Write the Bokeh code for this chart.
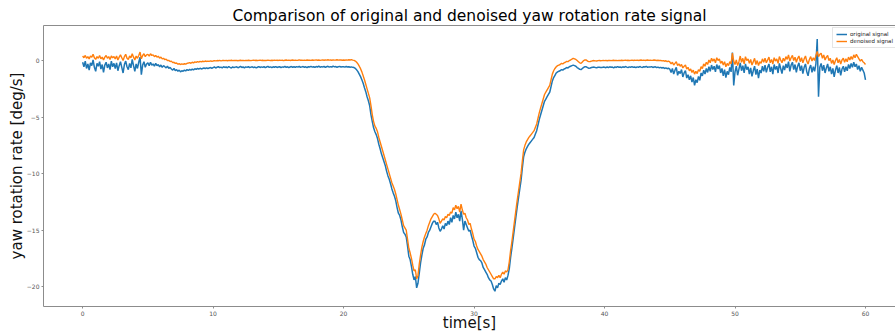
from bokeh.plotting import figure
from bokeh.models import Range1d, FixedTicker, LinearAxis, Legend, LegendItem
from bokeh.embed import file_html
from bokeh.resources import INLINE

SAMPLE_STEP_S = 0.1  # samples every 0.1 s, from t = 0 s

original_signal = [
    -0.15, -0.55, -0.05, -0.70, -0.30, -0.85, -0.20, -0.45, 0.05, -0.60, -0.95, -0.25, -0.50, -0.10, -0.75, -0.35, -1.05, -0.40, -0.15, -0.65, -0.30, -0.80, -0.05, -0.55, -0.25,
    -0.70, -0.20, -0.90, -0.45, -0.10, -0.60, -1.10, -0.35, -0.05, -0.55, -0.80, -0.25, -0.65, 0.10, -0.45, -0.95, -0.30, -0.70, -0.15, 0.30, -1.25, -0.40, -0.10, -0.60, -0.30,
    -0.20, -0.45, -0.15, -0.40, -0.30, -0.50, -0.25, -0.45, -0.35, -0.55, -0.40, -0.60, -0.45, -0.55, -0.65, -0.50, -0.70, -0.60, -0.75, -0.85, -0.70, -0.90, -0.80, -0.95, -0.85,
    -1.00, -0.90, -0.95, -0.85, -0.92, -0.80, -0.88, -0.78, -0.84, -0.75, -0.82, -0.72, -0.78, -0.70, -0.76, -0.68, -0.74, -0.70, -0.66, -0.72, -0.64, -0.70, -0.66, -0.62, -0.68,
    -0.62, -0.56, -0.66, -0.59, -0.54, -0.63, -0.58, -0.65, -0.55, -0.61, -0.57, -0.64, -0.53, -0.60, -0.66, -0.56, -0.62, -0.58, -0.55, -0.63, -0.59, -0.52, -0.61, -0.57, -0.64,
    -0.56, -0.60, -0.54, -0.63, -0.58, -0.55, -0.62, -0.57, -0.65, -0.59, -0.53, -0.61, -0.56, -0.60, -0.54, -0.63, -0.57, -0.52, -0.60, -0.56, -0.62, -0.55, -0.59, -0.53, -0.61,
    -0.57, -0.54, -0.62, -0.56, -0.59, -0.52, -0.60, -0.55, -0.63, -0.57, -0.53, -0.59, -0.55, -0.61, -0.54, -0.58, -0.51, -0.60, -0.56, -0.53, -0.59, -0.55, -0.62, -0.54, -0.57,
    -0.52, -0.58, -0.55, -0.61, -0.53, -0.57, -0.50, -0.59, -0.54, -0.56, -0.52, -0.60, -0.55, -0.51, -0.58, -0.54, -0.57, -0.50, -0.56, -0.53, -0.59, -0.54, -0.52, -0.57, -0.55,
    -0.55, -0.58, -0.53, -0.57, -0.54, -0.59, -0.56, -0.60, -0.62, -0.70, -0.82, -0.98, -1.20, -1.42, -1.70, -2.00, -2.40, -2.75, -3.20, -3.55, -4.00, -4.80, -5.40, -5.95, -6.30,
    -6.55, -6.90, -7.40, -7.80, -8.25, -8.60, -8.95, -9.30, -9.80, -10.20, -10.50, -10.90, -11.35, -11.70, -12.00, -12.40, -13.00, -13.50, -13.70, -14.10, -14.70, -15.20, -15.35, -15.60, -16.40,
    -17.30, -17.60, -18.20, -18.90, -19.40, -19.10, -20.10, -19.70, -18.80, -17.90, -17.20, -16.60, -16.30, -15.80, -15.60, -15.20, -15.00, -14.70, -14.40, -14.20, -14.20, -14.50, -14.30, -14.80, -15.10,
    -14.90, -14.60, -14.90, -14.40, -14.60, -14.20, -14.50, -13.90, -14.30, -13.70, -14.00, -13.40, -13.90, -13.60, -14.20, -13.30, -14.00, -15.00, -14.20, -14.50, -14.80, -15.10, -15.00, -15.50, -15.90,
    -16.40, -16.60, -17.00, -17.40, -17.60, -17.70, -17.90, -18.30, -18.50, -18.70, -18.90, -19.20, -19.40, -19.50, -19.80, -20.20, -20.40, -19.90, -20.10, -19.70, -19.80, -19.50, -19.30, -19.60, -19.20,
    -19.40, -19.00, -18.40, -17.40, -16.60, -15.70, -14.80, -13.90, -13.00, -12.20, -11.40, -10.60, -9.50, -8.50, -8.10, -7.80, -7.60, -7.40, -7.25, -7.10, -6.95, -6.80, -6.50, -6.20, -5.70,
    -5.20, -4.80, -4.40, -4.00, -3.60, -3.40, -3.20, -3.00, -2.80, -2.30, -1.80, -1.50, -1.30, -1.10, -1.00, -0.95, -0.90, -0.80, -0.85, -0.75, -0.70, -0.62, -0.65, -0.55, -0.50,
    -0.45, -0.40, -0.45, -0.50, -0.62, -0.70, -0.78, -0.80, -0.70, -0.60, -0.55, -0.55, -0.62, -0.68, -0.66, -0.62, -0.59, -0.58, -0.61, -0.63, -0.60, -0.59, -0.62, -0.61, -0.58,
    -0.60, -0.63, -0.57, -0.62, -0.55, -0.60, -0.58, -0.64, -0.56, -0.61, -0.54, -0.59, -0.57, -0.62, -0.55, -0.60, -0.53, -0.58, -0.61, -0.56, -0.59, -0.54, -0.60, -0.57, -0.62,
    -0.56, -0.59, -0.53, -0.58, -0.61, -0.55, -0.57, -0.52, -0.60, -0.56, -0.58, -0.54, -0.61, -0.57, -0.55, -0.62, -0.58, -0.64, -0.60, -0.66, -0.62, -0.70, -0.65, -0.72, -0.68,
    -0.75, -1.05, -0.70, -1.20, -0.85, -0.60, -1.30, -0.95, -1.15, -0.80, -1.45, -1.10, -0.90, -1.55, -1.25, -1.70, -1.35, -1.90, -1.50, -2.20, -1.70, -1.95, -1.40, -1.75, -1.10,
    -1.35, -0.85, -1.20, -0.70, -1.05, -0.55, -0.95, -0.40, -0.80, -0.50, -1.00, -0.35, -0.75, -0.45, -1.10, -0.70, -1.35, -0.80, -1.50, -0.95, -1.25, -0.60, -1.00, 0.70, -2.20,
    -1.00, -0.50, -1.30, -0.75, -0.20, -0.90, -0.45, -1.10, -0.30, -0.80, -0.55, -1.20, -0.65, -1.40, -0.90, -0.50, -1.25, -0.75, -1.55, -0.85, -1.10, -0.50, -0.95, -0.40, -1.05,
    -0.60, -0.30, -1.00, -0.55, -1.20, -0.35, -0.80, -0.50, -1.10, -0.25, -0.70, -1.15, -0.45, -0.85, -0.30, -0.65, -0.10, -0.95, -0.40, -0.15, -0.80, -0.35, -1.05, -0.50, -0.20,
    -0.90, -0.45, -1.15, -0.60, -0.30, -1.00, -1.35, -0.70, -0.40, -1.05, -0.55, -0.95, -0.30, 1.90, -3.20, -0.60, -0.25, -0.90, -0.40, -1.10, -0.65, -0.30, -0.95, -0.55, -1.20,
    -0.70, -1.45, -0.85, -0.45, -1.10, -0.60, -1.30, -0.75, -0.50, -1.00, -0.55, -0.90, -0.35, -0.70, -0.25, -0.60, -0.15, -0.55, -0.30, -0.80, -0.45, -0.95, -0.60, -0.85, -1.10,
    -1.70,
]

denoised_signal = [
    0.40, 0.25, 0.45, 0.20, 0.35, 0.15, 0.40, 0.30, 0.55, 0.25, 0.10, 0.35, 0.20, 0.45, 0.15, 0.30, 0.05, 0.30, 0.45, 0.20, 0.35, 0.10, 0.40, 0.25, 0.35,
    0.15, 0.40, 0.05, 0.30, 0.50, 0.25, 0.00, 0.35, 0.55, 0.20, 0.10, 0.40, 0.25, 0.60, 0.30, 0.05, 0.40, 0.20, 0.45, 0.75, 0.15, 0.45, 0.60, 0.35, 0.50,
    0.55, 0.40, 0.60, 0.45, 0.50, 0.35, 0.45, 0.30, 0.38, 0.22, 0.30, 0.15, 0.20, 0.08, 0.12, 0.00, 0.02, -0.08, -0.05, -0.18, -0.15, -0.25, -0.22, -0.32, -0.28,
    -0.35, -0.30, -0.34, -0.28, -0.32, -0.25, -0.22, -0.18, -0.24, -0.15, -0.20, -0.12, -0.16, -0.10, -0.14, -0.08, -0.12, -0.06, -0.10, -0.04, -0.08, -0.05, -0.07, -0.03, -0.06,
    -0.04, -0.01, -0.03, 0.00, -0.02, 0.01, -0.03, 0.00, 0.02, -0.01, 0.01, -0.02, 0.02, 0.00, 0.03, -0.01, 0.01, 0.00, 0.02, -0.02, 0.01, 0.03, 0.00, 0.02, -0.01,
    0.02, 0.00, 0.03, 0.01, -0.01, 0.02, 0.04, 0.01, 0.03, 0.00, 0.02, 0.04, 0.01, 0.03, 0.00, 0.02, 0.01, 0.04, 0.02, 0.00, 0.03, 0.01, 0.04, 0.02, 0.03,
    0.01, 0.04, 0.02, 0.03, 0.00, 0.03, 0.05, 0.02, 0.04, 0.01, 0.03, 0.05, 0.02, 0.04, 0.02, 0.03, 0.06, 0.03, 0.04, 0.01, 0.04, 0.02, 0.05, 0.03, 0.04,
    0.02, 0.05, 0.03, 0.04, 0.06, 0.03, 0.05, 0.02, 0.04, 0.06, 0.03, 0.05, 0.04, 0.07, 0.04, 0.05, 0.03, 0.06, 0.04, 0.05, 0.07, 0.04, 0.06, 0.05, 0.03,
    0.05, 0.03, 0.06, 0.04, 0.07, 0.05, 0.08, 0.04, 0.02, -0.04, -0.15, -0.30, -0.50, -0.72, -1.00, -1.35, -1.70, -2.10, -2.50, -2.90, -3.30, -4.00, -4.80, -5.40, -5.80,
    -6.00, -6.30, -6.80, -7.20, -7.60, -8.00, -8.40, -8.80, -9.20, -9.60, -10.00, -10.40, -10.80, -11.10, -11.40, -11.80, -12.30, -12.80, -13.20, -13.60, -14.10, -14.60, -14.80, -15.00, -15.80,
    -16.60, -17.00, -17.50, -18.10, -18.60, -18.50, -19.30, -19.00, -18.00, -17.20, -16.50, -16.00, -15.60, -15.30, -15.00, -14.60, -14.30, -14.00, -13.80, -13.60, -13.50, -13.60, -13.70, -14.00, -14.40,
    -14.20, -14.00, -14.10, -13.80, -13.90, -13.60, -13.70, -13.40, -13.50, -13.00, -13.20, -12.80, -13.10, -12.90, -13.40, -12.70, -13.20, -13.60, -13.50, -13.90, -14.10, -14.50, -14.40, -14.90, -15.30,
    -15.80, -16.00, -16.40, -16.70, -16.90, -17.10, -17.30, -17.60, -17.80, -18.00, -18.30, -18.50, -18.70, -18.90, -19.10, -19.30, -19.30, -19.10, -19.20, -19.00, -19.20, -18.90, -18.70, -18.90, -18.60,
    -18.70, -18.50, -17.80, -16.80, -16.00, -15.10, -14.20, -13.30, -12.40, -11.60, -10.80, -10.00, -8.90, -7.90, -7.50, -7.20, -7.00, -6.80, -6.65, -6.50, -6.35, -6.20, -5.90, -5.60, -5.10,
    -4.60, -4.20, -3.80, -3.40, -3.00, -2.80, -2.60, -2.40, -2.20, -1.70, -1.20, -0.90, -0.70, -0.55, -0.45, -0.40, -0.35, -0.25, -0.30, -0.20, -0.15, -0.08, -0.10, 0.00, 0.05,
    0.12, 0.20, 0.15, 0.10, 0.00, -0.10, -0.20, -0.25, -0.12, 0.00, 0.06, 0.05, -0.05, -0.10, -0.08, -0.05, -0.02, 0.00, -0.03, -0.04, -0.01, 0.00, -0.02, -0.01, 0.01,
    -0.01, 0.01, -0.02, 0.00, 0.02, -0.01, 0.01, 0.03, 0.00, 0.02, -0.01, 0.02, 0.00, 0.03, 0.01, 0.02, 0.04, 0.01, 0.03, 0.00, 0.02, 0.04, 0.01, 0.03, 0.02,
    0.04, 0.01, 0.03, 0.05, 0.02, 0.04, 0.01, 0.03, 0.05, 0.02, 0.04, 0.02, 0.03, 0.05, 0.03, 0.01, 0.03, 0.00, 0.02, -0.03, 0.00, -0.06, -0.02, -0.10, -0.05,
    -0.12, -0.30, -0.15, -0.40, -0.25, -0.10, -0.45, -0.30, -0.50, -0.35, -0.65, -0.50, -0.40, -0.75, -0.60, -0.90, -0.75, -1.05, -0.85, -1.20, -0.95, -1.15, -0.80, -0.95, -0.55,
    -0.70, -0.30, -0.50, -0.15, -0.35, 0.05, -0.20, 0.20, -0.05, 0.15, -0.20, 0.25, 0.00, 0.15, -0.25, -0.05, -0.40, -0.10, -0.55, -0.25, -0.45, -0.10, -0.30, 0.65, -0.05,
    -0.35, 0.05, -0.45, -0.10, 0.40, -0.15, 0.20, -0.30, 0.35, 0.00, 0.15, -0.25, 0.10, -0.40, -0.10, 0.20, -0.35, 0.00, -0.45, -0.10, -0.25, 0.15, -0.15, 0.20, -0.20,
    0.05, 0.30, -0.20, 0.10, -0.30, 0.25, -0.05, 0.15, -0.25, 0.35, 0.05, -0.20, 0.20, -0.05, 0.35, 0.10, 0.50, -0.05, 0.25, 0.45, 0.00, 0.30, -0.15, 0.20, 0.40,
    -0.10, 0.25, -0.20, 0.15, 0.40, -0.05, -0.30, 0.10, 0.35, -0.05, 0.25, 0.00, 0.45, 0.80, 0.35, 0.55, 0.65, 0.20, 0.50, 0.05, 0.30, 0.45, 0.00, 0.20, -0.25,
    0.05, -0.35, 0.00, 0.25, -0.20, 0.10, -0.30, 0.05, 0.20, -0.15, 0.15, -0.10, 0.30, 0.05, 0.35, 0.10, 0.50, 0.25, 0.55, 0.35, 0.15, -0.05, 0.10, -0.10, -0.20,
    -0.35,
]

x_ticks = [0, 10, 20, 30, 40, 50, 60]
y_ticks = [0, -5, -10, -15, -20]
y_tick_labels = {0: "0", -5: "\u22125", -10: "\u221210", -15: "\u221215", -20: "\u221220"}

title_text = "Comparison of original and denoised yaw rotation rate signal"
x_label = "time[s]"
y_label = "yaw rotation rate [deg/s]"
series_names = ["original signal", "denoised signal"]

time_original = [round(i * SAMPLE_STEP_S, 1) for i in range(len(original_signal))]
time_denoised = [round(i * SAMPLE_STEP_S, 1) for i in range(len(denoised_signal))]

FONT = "DejaVu Sans"
SPINE = "#8c8c8c"

p = figure(width=895, height=334, output_backend="svg", toolbar_location=None,
           x_range=Range1d(-3.0, 62.3), y_range=Range1d(-21.75, 3.1),
           min_border_left=43, min_border_right=0, min_border_top=25, min_border_bottom=28,
           background_fill_color="white", border_fill_color="white")
p.outline_line_color = None
p.grid.visible = False

r1 = p.line(time_original, original_signal, line_color="#1f77b4", line_width=1.5)
r2 = p.line(time_denoised, denoised_signal, line_color="#ff7f0e", line_width=1.4)

p.title.text = title_text
p.title.align = "center"
p.title.text_font = FONT
p.title.text_font_size = "15.5px"
p.title.text_font_style = "normal"
p.title.text_color = "#000000"
p.title.standoff = 2

for ax in (p.xaxis[0], p.yaxis[0]):
    ax.axis_line_color = SPINE
    ax.axis_line_width = 1
    ax.major_tick_line_color = SPINE
    ax.major_tick_in = 0
    ax.major_tick_out = 2
    ax.minor_tick_line_color = None
    ax.major_label_text_font = FONT
    ax.major_label_text_font_size = "6px"
    ax.major_label_text_color = "#555555"
    ax.major_label_standoff = 2
    ax.axis_label_text_font = FONT
    ax.axis_label_text_font_size = "15px"
    ax.axis_label_text_font_style = "normal"
    ax.axis_label_text_color = "#111111"
    ax.axis_label_standoff = 0

p.xaxis[0].axis_label_standoff = -5
p.yaxis[0].axis_label_standoff = -2
p.xaxis[0].ticker = FixedTicker(ticks=x_ticks)
p.yaxis[0].ticker = FixedTicker(ticks=y_ticks)
p.yaxis[0].major_label_overrides = y_tick_labels
p.xaxis[0].axis_label = x_label
p.yaxis[0].axis_label = y_label

top = LinearAxis(ticker=FixedTicker(ticks=[]), axis_line_color=SPINE, axis_line_width=1,
                 major_tick_line_color=None, minor_tick_line_color=None,
                 major_label_text_font_size="0px", major_label_standoff=0)
p.add_layout(top, "above")

legend = Legend(items=[LegendItem(label=series_names[0], renderers=[r1]),
                       LegendItem(label=series_names[1], renderers=[r2])],
                location=(789, 258))
legend.label_text_font = FONT
legend.label_text_font_size = "5.5px"
legend.label_text_color = "#222222"
legend.glyph_width = 11
legend.glyph_height = 6
legend.label_height = 6
legend.label_standoff = 3
legend.spacing = 1
legend.padding = 3
legend.margin = 0
legend.border_line_color = "#cccccc"
legend.background_fill_alpha = 0.8
p.add_layout(legend)

open("out.html", "w").write(file_html(p, INLINE))
